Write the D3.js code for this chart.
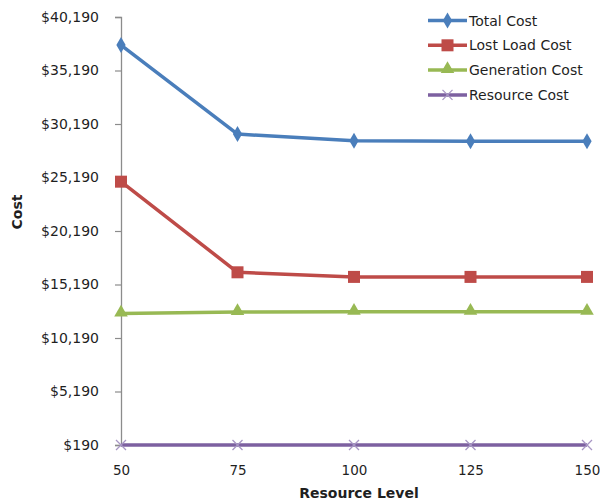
<!DOCTYPE html>
<html>
<head>
<meta charset="utf-8">
<script src="https://cdn.jsdelivr.net/npm/d3@7"></script>
<style>
  html, body { margin: 0; padding: 0; background: #fff; }
  svg text { font-family: "DejaVu Sans", "Liberation Sans", sans-serif; }
</style>
</head>
<body>
<svg id="chart" width="600" height="502"></svg>
<script>
// Resource levels on the x axis
const levels = ["50", "75", "100", "125", "150"];

// Cost series (dollars)
const totalCost      = [37570, 29250, 28620, 28580, 28580];
const lostLoadCost   = [24800, 16330, 15900, 15900, 15900];
const generationCost = [12480, 12620, 12640, 12640, 12640];
const resourceCost   = [190, 190, 190, 190, 190];

// Y tick values
const yTicks = [190, 5190, 10190, 15190, 20190, 25190, 30190, 35190, 40190];

const seriesNames  = ["Total Cost", "Lost Load Cost", "Generation Cost", "Resource Cost"];
const seriesColors = ["#4A7EBB", "#BE4B48", "#98B954", "#7D60A0"];
const seriesMarks  = ["diamond", "square", "triangle", "cross"];
const seriesData   = [totalCost, lostLoadCost, generationCost, resourceCost];

const svg = d3.select("#chart");
const plotLeft = 121, plotRight = 587, plotTop = 17, plotBottom = 445;

const x = d3.scalePoint().domain(levels).range([plotLeft, plotRight]);
const y = d3.scaleLinear().domain([190, 40190]).range([plotBottom, plotTop]);

// Y axis
const yAxis = d3.axisLeft(y).tickValues(yTicks).tickSize(6).tickPadding(16)
  .tickFormat(d => "$" + d3.format(",")(d));
const gy = svg.append("g").attr("transform", `translate(${plotLeft},0)`).call(yAxis);
gy.select(".domain").attr("stroke", "#8c8c8c").attr("stroke-width", 1.3);
gy.selectAll(".tick line").attr("stroke", "#8c8c8c").attr("stroke-width", 1.2);
gy.selectAll(".tick text").attr("font-size", 14).attr("fill", "#1f1f1f");

// X axis (labels only)
const xAxis = d3.axisBottom(x).tickSize(0).tickPadding(20);
const gx = svg.append("g").attr("transform", `translate(0,${plotBottom})`).call(xAxis);
gx.select(".domain").attr("stroke", "#8c8c8c");
gx.selectAll(".tick text").attr("font-size", 13.5).attr("fill", "#1f1f1f");

// Axis titles
svg.append("text").attr("x", 359).attr("y", 498).attr("text-anchor", "middle")
  .attr("font-size", 14).attr("font-weight", "bold").attr("fill", "#1f1f1f").text("Resource Level");
svg.append("text").attr("transform", "translate(22,212) rotate(-90)").attr("text-anchor", "middle")
  .attr("font-size", 14).attr("font-weight", "bold").attr("fill", "#1f1f1f").text("Cost");

function drawMarker(g, type, color, cx, cy) {
  if (type === "diamond") {
    g.append("path").attr("d", d3.symbol(d3.symbolDiamond, 75)())
      .attr("transform", `translate(${cx},${cy})`).attr("fill", color);
  } else if (type === "square") {
    g.append("rect").attr("x", cx - 6).attr("y", cy - 6).attr("width", 12).attr("height", 12).attr("fill", color);
  } else if (type === "triangle") {
    g.append("path").attr("d", d3.symbol(d3.symbolTriangle, 80)())
      .attr("transform", `translate(${cx},${cy - 1})`).attr("fill", color);
  } else if (type === "cross") {
    g.append("path").attr("d", `M${cx-5},${cy-5}L${cx+5},${cy+5}M${cx-5},${cy+5}L${cx+5},${cy-5}`)
      .attr("stroke", "#a796c4").attr("stroke-width", 1.3).attr("fill", "none");
  }
}

const line = d3.line().x((d, i) => x(levels[i])).y(d => y(d));

seriesData.forEach((vals, s) => {
  const g = svg.append("g");
  g.append("path").datum(vals).attr("d", line).attr("fill", "none")
    .attr("stroke", seriesColors[s]).attr("stroke-width", 3.5).attr("stroke-linejoin", "round");
  vals.forEach((v, i) => drawMarker(g, seriesMarks[s], seriesColors[s], x(levels[i]), y(v)));
});

// Legend
const lg = svg.append("g");
seriesNames.forEach((name, s) => {
  const ly = 20.5 + s * 24.8;
  lg.append("line").attr("x1", 428).attr("x2", 467).attr("y1", ly).attr("y2", ly)
    .attr("stroke", seriesColors[s]).attr("stroke-width", 3.5);
  drawMarker(lg, seriesMarks[s], seriesColors[s], 447.5, ly);
  lg.append("text").attr("x", 469).attr("y", ly + 5).attr("font-size", 14).attr("fill", "#1f1f1f").text(name);
});
</script>
</body>
</html>
